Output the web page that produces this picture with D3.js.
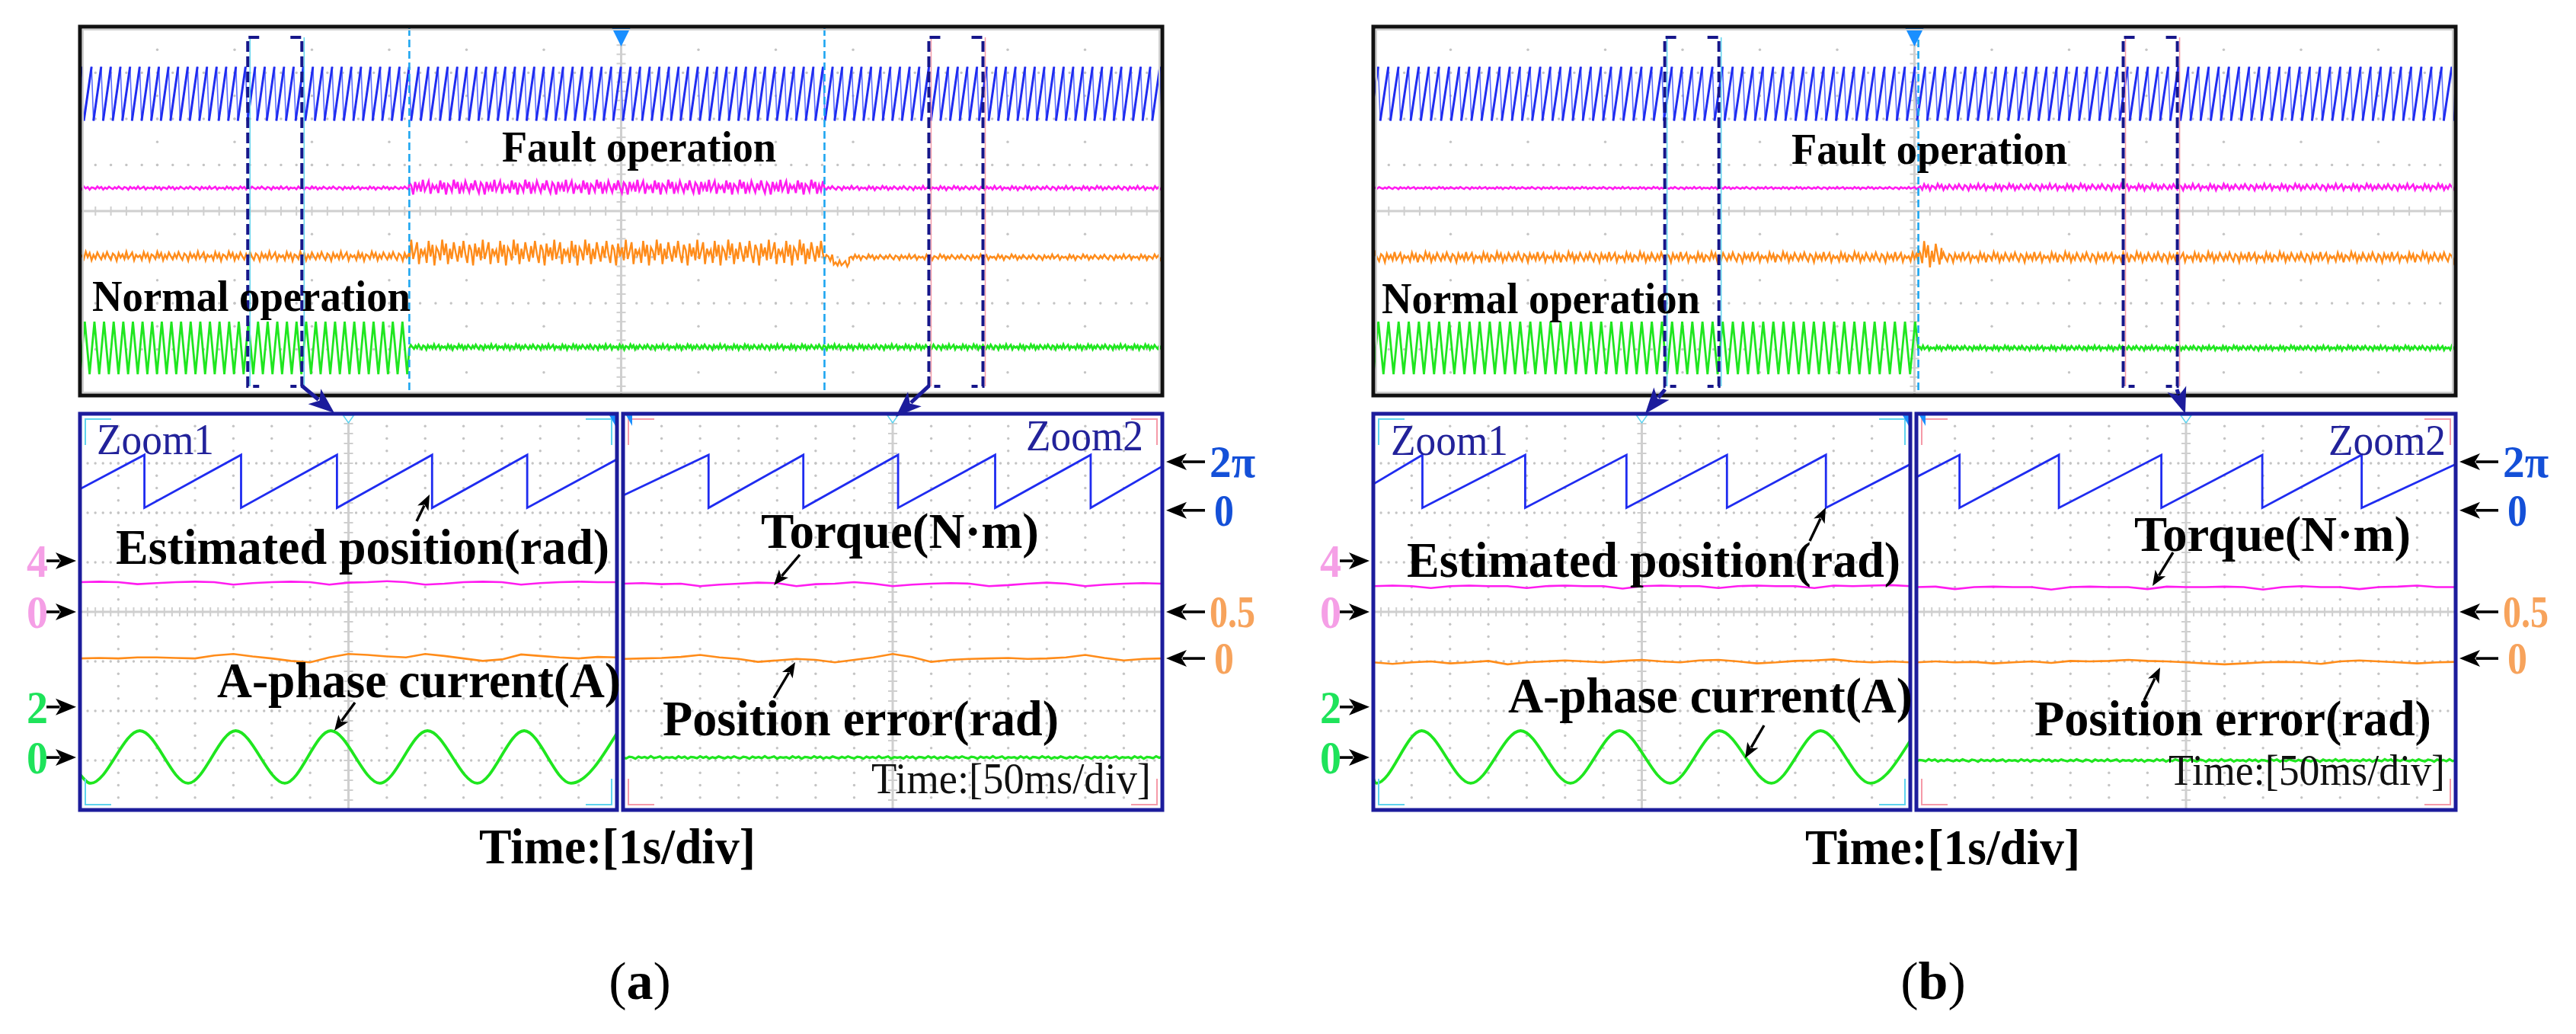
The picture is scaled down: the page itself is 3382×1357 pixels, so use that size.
<!DOCTYPE html>
<meta charset="utf-8">
<title>Normal / fault operation waveforms</title>
<style>
body { margin: 0; background: #fff; }
svg { display: block; }
text { font-family: "Liberation Serif", "Times New Roman", serif; }
</style>
<body>
<div id="chart"></div>
<script src="https://cdn.jsdelivr.net/npm/d3@7"></script>
<script>

// ---- values ----
// top screen: 14 div x 1 s; zoom screens: 14 div x 50 ms; levels in divisions from screen centre
var panelIds = ['a', 'b'];
var faultStart = [4.26, 7.05];            // s, first cyan cursor
var faultEnd = [9.63, null];              // s, second cyan cursor (only in a)
var zoom1Start = [2.17, 3.77];            // s, Zoom1 bracket
var zoom2Start = [10.98, 9.70];           // s, Zoom2 bracket
var zoomSpan = 0.7;                       // s
var elecPeriod = [0.1245, 0.131];         // s
var topPosPhase = [0.05, 0.09];           // s, first wrap on the top screen
var topPosRange = [1.96, 3.13];           // div
var topIaMid = [-2.97, -2.97];
var topIaAmp = [0.57, 0.57];

// [t0, t1, level, noise] in s / div
var topTorqueSeg = [
  [[0, 4.26, 0.50, 0.035], [4.26, 9.63, 0.52, 0.16], [9.63, 14, 0.50, 0.045]],
  [[0, 7.05, 0.50, 0.025], [7.05, 14, 0.52, 0.07]]
];
var topErrSeg = [
  [[0, 4.26, -0.98, 0.10], [4.26, 9.63, -0.90, 0.28], [9.63, 9.75, -1.0, 0.08],
   [9.75, 9.95, -1.14, 0.07], [9.95, 14, -1.0, 0.06]],
  [[0, 7.05, -1.0, 0.11], [7.05, 7.35, -0.95, 0.30], [7.35, 14, -1.0, 0.11]]
];
var topIaFlat = [[[4.26, 14, -2.95, 0.055]], [[7.05, 14, -2.97, 0.05]]];
var jitter = [0.2, -0.8, 0.9, -0.3, 0.6, -1, 0.4, 0.1, -0.6, 1, -0.2, 0.7, -0.9, 0.3, -0.5,
  0.8, 0, -0.7, 0.5, -0.4, 0.9, -0.1, -0.8, 0.6, 0.2, -1, 0.7, -0.3, 0.4, -0.6, 1, -0.5,
  0.1, 0.8, -0.9, 0.3, -0.2];

// zoom screens, order: a-Zoom1, a-Zoom2, b-Zoom1, b-Zoom2 (ms / div)
var zPosWrap = [[84, 210, 335, 459, 583], [111, 234, 357, 483, 607],
                [64, 198, 330, 461, 590], [56, 185, 318, 449, 578]];
var zPosEnds = [[2.48, 3.08], [2.35, 2.94], [2.58, 2.98], [2.72, 2.98]];
var zPosRange = [2.1, 3.17];
var zIaPeaks = [[78, 203, 327, 453, 579], null, [63, 192, 321, 451, 583], null];
var zIaTroughs = [[14, 141, 267, 391, 518, 640], null, [4, 127, 257, 387, 519, 648], null];
var zIaEnds = [[-3.28, -2.45], null, [-3.36, -2.6], null];
var zIaRange = [-3.46, -2.4];
var zIaFlat = [null, -2.94, null, -3.0];
var zTorqueLevel = [0.6, 0.57, 0.52, 0.5];
var zErrLevel = [-0.94, -0.95, -1.02, -1.02];
// 25 ms samples
var zTorqueWig = [
  [0, 0.01, 0, -0.04, -0.02, 0, 0.01, 0, -0.05, -0.02, 0, 0.01, 0, -0.05, -0.01, 0, 0.02, 0, -0.05, -0.03, 0, 0.01, 0, -0.05, -0.02, 0, 0.01, 0, 0],
  [0, 0.01, -0.01, 0, -0.05, -0.02, 0, 0.02, 0.01, -0.05, -0.01, 0, 0.03, 0, -0.05, -0.02, 0, 0.01, 0, -0.05, -0.03, 0, 0.02, 0, -0.05, -0.02, 0, 0.01, 0],
  [0, 0.01, 0, -0.04, 0, 0.01, 0, 0, -0.04, 0, 0.01, 0, 0, -0.05, 0, 0.01, 0, 0, -0.04, 0, 0.01, 0, 0, -0.04, 0.01, 0, 0.01, 0.02, 0],
  [0, 0.01, -0.04, 0, 0.01, 0, 0, -0.05, 0, 0.01, 0, 0, -0.04, 0.01, 0, 0, 0.01, 0, -0.05, 0, 0.02, 0, 0, -0.04, 0, 0.01, 0.03, 0, 0]
];
var zErrWig = [
  [0, 0.01, 0, 0.02, 0.02, 0.01, 0, 0.06, 0.09, 0.04, 0, -0.05, -0.08, 0.02, 0.09, 0.07, 0.04, 0.02, 0.09, 0.05, 0, -0.05, -0.02, 0.08, 0.05, 0.02, 0, 0.03, 0.02],
  [0, 0.01, 0.02, 0.04, 0.08, 0.03, 0, -0.06, -0.03, 0, -0.02, -0.07, -0.02, 0.03, 0.1, 0.04, -0.06, -0.02, 0, 0.01, 0.02, 0, 0.01, 0.03, 0.08, 0.02, -0.03, 0, 0.01],
  [0, -0.03, 0, 0.02, -0.02, 0, 0.03, -0.04, 0, 0.02, 0.04, 0.02, 0, 0.03, 0.05, 0.02, 0, 0.04, 0.05, 0.02, -0.02, 0, 0.03, 0.04, 0.06, 0.02, 0, 0.02, 0],
  [0, 0.02, 0, 0.01, -0.02, 0, 0.02, -0.01, 0.03, 0.02, 0.03, 0.05, 0.03, 0.02, 0, -0.02, -0.04, -0.02, 0, 0.01, 0, -0.03, 0.02, 0.04, 0.02, 0, -0.02, 0, 0.01]
];

// channel markers beside the zoom screens [label, level div]
var leftMarks = [['4', 1.03, '#f59fe6'], ['0', 0, '#f59fe6'], ['2', -1.92, '#1ee35a'], ['0', -2.94, '#1ee35a']];
var rightMarks = [['2π', 3.03, '#1450d8'], ['0', 2.05, '#1450d8'], ['0.5', 0, '#f7a35c'], ['0', -0.94, '#f7a35c']];

// ---- layout ----
var W = 3382, H = 1357;
var dxs = [0, 1698];
var topBox = {x0: 105, x1: 1526, y0: 35, y1: 519};
var zb = [{x0: 105, x1: 810}, {x0: 818, x1: 1526}];
var zy = {y0: 543, y1: 1063};
var C = {blue: '#1f2cf0', mag: '#ff1cf0', org: '#ff8c1a', grn: '#1fe61f', navy: '#1c1c9c',
         cyan: '#1ea6f0', grid: '#c4c4c4'};

var labels = [
  [['Fault operation', 659, 212, 58, 'b', 360], ['Normal operation', 121, 408, 58, 'b', 418],
   ['Zoom1', 127, 596, 57, 'z', 154], ['Zoom2', 1347, 591, 57, 'z', 154],
   ['Estimated position(rad)', 152, 740, 66, 'b', 648], ['A-phase current(A)', 285, 915, 65, 'b', 530],
   ['Torque(N·m)', 999, 719, 66, 'b', 365], ['Position error(rad)', 870, 965, 66, 'b', 520],
   ['Time:[50ms/div]', 1144, 1041, 57, 'r', 367], ['Time:[1s/div]', 629, 1133, 65, 'b', 363]],
  [['Fault operation', 2352, 215, 58, 'b', 362], ['Normal operation', 1814, 411, 58, 'b', 418],
   ['Zoom1', 1826, 597, 57, 'z', 154], ['Zoom2', 3057, 597, 57, 'z', 154],
   ['Estimated position(rad)', 1847, 757, 66, 'b', 648], ['A-phase current(A)', 1980, 935, 65, 'b', 531],
   ['Torque(N·m)', 2802, 723, 66, 'b', 363], ['Position error(rad)', 2671, 965, 66, 'b', 521],
   ['Time:[50ms/div]', 2847, 1030, 57, 'r', 363], ['Time:[1s/div]', 2370, 1134, 65, 'b', 361]]
];
var noteArrows = [
  [[547, 684, 564, 649], [466, 922, 439, 959], [1050, 728, 1016, 768], [1016, 916, 1044, 869]],
  [[2376, 710, 2397, 666], [2316, 952, 2291, 995], [2853, 725, 2826, 769], [2815, 919, 2836, 876]]
];
var zoomArrows = [
  [[396, 506, 439, 542], [1220, 506, 1176, 547]],
  [[2186, 511, 2160, 543], [2858, 511, 2869, 543]]
];

var svg = d3.select('#chart').append('svg').attr('width', W).attr('height', H);
var defs = svg.append('defs');

function arrow(g, a, color, lw, hl, hw) {
  var x1 = a[0], y1 = a[1], x2 = a[2], y2 = a[3];
  var ang = Math.atan2(y2 - y1, x2 - x1), c = Math.cos(ang), s = Math.sin(ang);
  g.append('line').attr('x1', x1).attr('y1', y1)
    .attr('x2', x2 - c * hl * 0.8).attr('y2', y2 - s * hl * 0.8)
    .attr('stroke', color).attr('stroke-width', lw);
  var bx = x2 - c * hl, by = y2 - s * hl;
  g.append('path').attr('fill', color)
    .attr('d', 'M' + x2 + ',' + y2 + 'L' + (bx - s * hw / 2) + ',' + (by + c * hw / 2) +
      'L' + (bx + c * hl * 0.25) + ',' + (by + s * hl * 0.25) +
      'L' + (bx + s * hw / 2) + ',' + (by - c * hw / 2) + 'Z');
}

function txt(g, l) {
  var t = g.append('text').attr('x', l[1]).attr('y', l[2]).attr('font-size', l[3])
    .attr('textLength', l[5]).attr('lengthAdjust', 'spacingAndGlyphs').text(l[0]);
  if (l[4] === 'b') t.attr('font-weight', 'bold').attr('fill', '#000');
  if (l[4] === 'r') t.attr('fill', '#111');
  if (l[4] === 'z') t.attr('fill', '#22229a');
  return t;
}

function grid(g, x0, x1, y0, y1, colDots) {
  var dv = (x1 - x0) / 14, dh = (y1 - y0) / 8, cx = (x0 + x1) / 2, cy = (y0 + y1) / 2;
  var dots = [];
  d3.range(1, 8).filter(j => j !== 4).forEach(function(j) {
    d3.range(1, 70).forEach(i => dots.push([x0 + i * dv / 5, y0 + j * dh]));
  });
  d3.range(1, 14).filter(i => i !== 7).forEach(function(i) {
    d3.range(1, 8 * colDots).forEach(j => dots.push([x0 + i * dv, y0 + j * dh / colDots]));
  });
  g.append('g').selectAll('circle').data(dots).join('circle')
    .attr('cx', d => d[0]).attr('cy', d => d[1]).attr('r', 1.7).attr('fill', C.grid);
  g.append('line').attr('x1', x0).attr('x2', x1).attr('y1', cy).attr('y2', cy)
    .attr('stroke', '#cfcfcf').attr('stroke-width', 3);
  g.append('line').attr('x1', cx).attr('x2', cx).attr('y1', y0).attr('y2', y1)
    .attr('stroke', '#cfcfcf').attr('stroke-width', 3);
  g.append('g').selectAll('line').data(d3.range(1, 70)).join('line')
    .attr('x1', i => x0 + i * dv / 5).attr('x2', i => x0 + i * dv / 5)
    .attr('y1', cy - 6).attr('y2', cy + 6).attr('stroke', '#cfcfcf').attr('stroke-width', 2);
  g.append('g').selectAll('line').data(d3.range(1, 40)).join('line')
    .attr('y1', j => y0 + j * dh / 5).attr('y2', j => y0 + j * dh / 5)
    .attr('x1', cx - 6).attr('x2', cx + 6).attr('stroke', '#cfcfcf').attr('stroke-width', 2);
}

var jit = 0;
function noisy(segs, dt) {
  var pts = [];
  segs.forEach(function(s) {
    for (var t = s[0]; t <= s[1] + 1e-9; t += dt) {
      pts.push([t, s[2] + s[3] * jitter[jit++ % jitter.length]]);
    }
  });
  return pts;
}

panelIds.forEach(function(pid, p) {
  var dx = dxs[p];
  var g = svg.append('g').attr('class', 'panel-' + pid);
  var P = elecPeriod[p];

  // ---------- top screen ----------
  var xT = d3.scaleLinear().domain([0, 14]).range([topBox.x0 + dx, topBox.x1 + dx]);
  var yT = d3.scaleLinear().domain([-4, 4]).range([topBox.y1, topBox.y0]);
  var lineT = d3.line().x(d => xT(d[0])).y(d => yT(d[1]));

  defs.append('clipPath').attr('id', 'clipTop' + p).append('rect')
    .attr('x', xT(0)).attr('y', topBox.y0).attr('width', xT(14) - xT(0)).attr('height', topBox.y1 - topBox.y0);

  grid(g, xT(0), xT(14), topBox.y0, topBox.y1, 2);
  var gt = g.append('g').attr('clip-path', 'url(#clipTop' + p + ')').attr('fill', 'none');

  // position: thick ramps, thin falls
  var ramps = [], falls = [];
  for (var t = topPosPhase[p] - P; t < 14 + P; t += P) {
    ramps.push([[t, topPosRange[0]], [t + 0.8 * P, topPosRange[1]]]);
    falls.push([[t + 0.8 * P, topPosRange[1]], [t + P, topPosRange[0]]]);
  }
  gt.append('g').selectAll('path').data(falls).join('path').attr('d', lineT)
    .attr('stroke', '#5a6cff').attr('stroke-width', 1.6);
  gt.append('g').selectAll('path').data(ramps).join('path').attr('d', lineT)
    .attr('stroke', C.blue).attr('stroke-width', 3);

  gt.append('path').attr('d', lineT(noisy(topTorqueSeg[p], 0.025)))
    .attr('stroke', C.mag).attr('stroke-width', 2.6);
  gt.append('path').attr('d', lineT(noisy(topErrSeg[p], 0.025)))
    .attr('stroke', C.org).attr('stroke-width', 2.4);

  var sine = [];
  for (var k = 0, t2 = 0; t2 <= faultStart[p]; k++, t2 = k * P / 2) {
    sine.push([t2, topIaMid[p] + (k % 2 ? topIaAmp[p] : -topIaAmp[p])]);
  }
  gt.append('path').attr('d', lineT(sine.concat(noisy(topIaFlat[p], 0.02))))
    .attr('stroke', C.grn).attr('stroke-width', 2.8);

  // cursors, trigger and zoom brackets
  [faultStart[p], faultEnd[p]].filter(v => v !== null).forEach(function(v) {
    g.append('line').attr('x1', xT(v)).attr('x2', xT(v)).attr('y1', topBox.y0 + 2).attr('y2', topBox.y1 - 2)
      .attr('stroke', C.cyan).attr('stroke-width', 2.6).attr('stroke-dasharray', '10,5');
  });
  g.append('path').attr('fill', '#1a8fff')
    .attr('d', 'M' + (xT(7) - 12) + ',' + (topBox.y0 + 2) + 'h24l-12,24Z');

  [[zoom1Start[p], '#5fd3ee'], [zoom2Start[p], '#f59aa8']].forEach(function(z) {
    var xl = xT(z[0]), xr = xT(z[0] + zoomSpan), yb0 = topBox.y0 + 14, yb1 = topBox.y1 - 12;
    g.append('line').attr('x1', xl + 3).attr('x2', xl + 3).attr('y1', yb0).attr('y2', yb1)
      .attr('stroke', z[1]).attr('stroke-width', 1.5);
    g.append('line').attr('x1', xr + 3).attr('x2', xr + 3).attr('y1', yb0).attr('y2', yb1)
      .attr('stroke', z[1]).attr('stroke-width', 1.5);
    g.append('path').attr('fill', 'none').attr('stroke', '#16168a').attr('stroke-width', 4)
      .attr('stroke-dasharray', '14,6')
      .attr('d', 'M' + (xl + 15) + ',' + yb0 + 'H' + xl + 'V' + yb1 + 'H' + (xl + 15) +
                 'M' + (xr - 15) + ',' + yb0 + 'H' + xr + 'V' + yb1 + 'H' + (xr - 15));
  });

  g.append('rect').attr('x', xT(0) + 4).attr('y', topBox.y0 + 4).attr('width', xT(14) - xT(0) - 8)
    .attr('height', topBox.y1 - topBox.y0 - 8).attr('fill', 'none').attr('stroke', '#d0d0d0').attr('stroke-width', 2);
  g.append('rect').attr('x', xT(0)).attr('y', topBox.y0).attr('width', xT(14) - xT(0))
    .attr('height', topBox.y1 - topBox.y0).attr('fill', 'none').attr('stroke', '#111').attr('stroke-width', 5);

  // ---------- zoom screens ----------
  zb.forEach(function(b, zi) {
    var q = p * 2 + zi;
    var x0 = b.x0 + dx, x1 = b.x1 + dx;
    var xZ = d3.scaleLinear().domain([0, 700]).range([x0, x1]);
    var yZ = d3.scaleLinear().domain([-4, 4]).range([zy.y1, zy.y0]);
    var lineZ = d3.line().x(d => xZ(d[0])).y(d => yZ(d[1]));
    var corner = zi === 0 ? '#5fd3ee' : '#f59aa8';

    defs.append('clipPath').attr('id', 'clipZ' + q).append('rect')
      .attr('x', x0).attr('y', zy.y0).attr('width', x1 - x0).attr('height', zy.y1 - zy.y0);
    grid(g, x0, x1, zy.y0, zy.y1, 4);

    var gz = g.append('g').attr('clip-path', 'url(#clipZ' + q + ')').attr('fill', 'none');

    var w = zPosWrap[q], pts = [[0, zPosEnds[q][0]]];
    w.forEach(function(tw) { pts.push([tw, zPosRange[1]], [tw, zPosRange[0]]); });
    pts.push([700, zPosEnds[q][1]]);
    gz.append('path').attr('d', lineZ(pts)).attr('stroke', C.blue).attr('stroke-width', 2.8);

    gz.append('path').attr('d', lineZ(zTorqueWig[q].map((v, i) => [i * 25, zTorqueLevel[q] + v])))
      .attr('stroke', C.mag).attr('stroke-width', 2.6);
    gz.append('path').attr('d', lineZ(zErrWig[q].map((v, i) => [i * 25, zErrLevel[q] + v])))
      .attr('stroke', C.org).attr('stroke-width', 2.6);

    if (zIaPeaks[q]) {
      var ia = [[0, zIaEnds[q][0]]]
        .concat(zIaPeaks[q].map(v => [v, zIaRange[1]]), zIaTroughs[q].map(v => [v, zIaRange[0]]))
        .sort((a, c) => a[0] - c[0]);
      ia.push([700, zIaEnds[q][1]]);
      gz.append('path').attr('d', d3.line().x(d => xZ(d[0])).y(d => yZ(d[1])).curve(d3.curveMonotoneX)(ia))
        .attr('stroke', C.grn).attr('stroke-width', 3.8);
    } else {
      gz.append('path').attr('d', lineZ(noisy([[0, 700, zIaFlat[q], 0.025]], 4)))
        .attr('stroke', C.grn).attr('stroke-width', 3.2);
    }

    // corner marks and small cursors
    var s = 34, i0 = 7;
    [[x0 + i0, zy.y0 + i0, 1, 1], [x1 - i0, zy.y0 + i0, -1, 1],
     [x0 + i0, zy.y1 - i0, 1, -1], [x1 - i0, zy.y1 - i0, -1, -1]].forEach(function(c) {
      g.append('path').attr('fill', 'none').attr('stroke', corner).attr('stroke-width', 2)
        .attr('d', 'M' + (c[0] + c[2] * s) + ',' + c[1] + 'H' + c[0] + 'V' + (c[1] + c[3] * s));
    });
    var cx = (x0 + x1) / 2;
    g.append('path').attr('fill', '#fff').attr('stroke', '#5fd3ee').attr('stroke-width', 1.5)
      .attr('d', 'M' + (cx - 7) + ',' + (zy.y0 + 2) + 'h14l-7,10Z');
    var mx = zi === 0 ? x1 - 10 : x0 + 4;
    g.append('path').attr('fill', '#1a8fff').attr('d', 'M' + mx + ',' + (zy.y0 + 2) + 'h8v14Z');

    g.append('rect').attr('x', x0).attr('y', zy.y0).attr('width', x1 - x0).attr('height', zy.y1 - zy.y0)
      .attr('fill', 'none').attr('stroke', C.navy).attr('stroke-width', 5);

    // channel markers
    if (zi === 0) {
      leftMarks.forEach(function(m) {
        arrow(g, [x0 - 44, yZ(m[1]), x0 - 5, yZ(m[1])], '#000', 3.6, 27, 22);
        g.append('text').attr('x', x0 - 42).attr('y', yZ(m[1]) + 21).attr('text-anchor', 'end')
          .attr('font-size', 62).attr('font-weight', 'bold').attr('fill', m[2])
          .attr('textLength', 28).attr('lengthAdjust', 'spacingAndGlyphs').text(m[0]);
      });
    } else {
      rightMarks.forEach(function(m) {
        arrow(g, [x1 + 56, yZ(m[1]), x1 + 5, yZ(m[1])], '#000', 3.6, 27, 22);
        g.append('text').attr('x', x1 + 62 + (m[0] === '0' ? 6 : 0)).attr('y', yZ(m[1]) + 20)
          .attr('font-size', 60).attr('font-weight', 'bold').attr('fill', m[2])
          .attr('textLength', m[0].length > 1 ? 60 : 26).attr('lengthAdjust', 'spacingAndGlyphs').text(m[0]);
      });
    }
  });

  // zoom arrows and annotations
  zoomArrows[p].forEach(a => arrow(g, a, C.navy, 5, 34, 26));
  noteArrows[p].forEach(a => arrow(g, a, '#000', 3.4, 20, 16));
  labels[p].forEach(l => txt(g, l));

  var cap = g.append('text').attr('x', 840 + dx).attr('y', 1311).attr('text-anchor', 'middle')
    .attr('font-size', 70).attr('fill', '#000');
  cap.append('tspan').text('(');
  cap.append('tspan').attr('font-weight', 'bold').text(pid);
  cap.append('tspan').text(')');
});

</script>
</body>
